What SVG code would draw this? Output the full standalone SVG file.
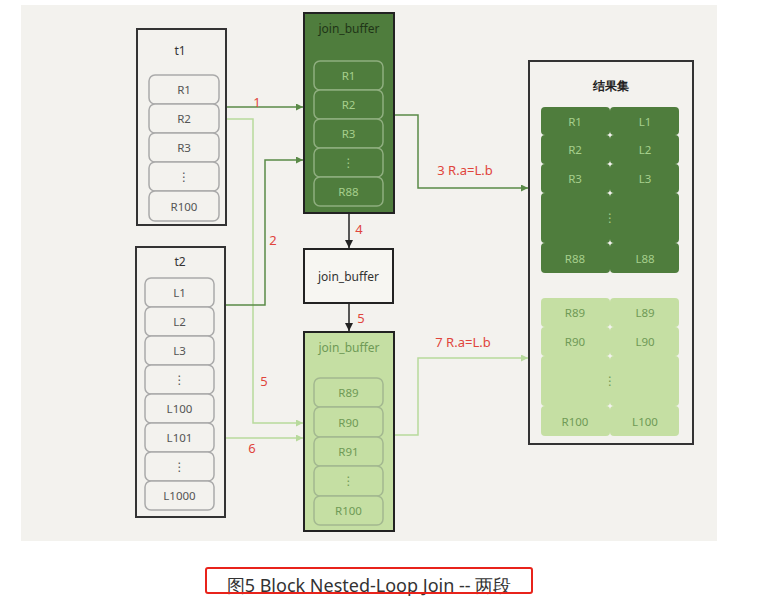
<svg xmlns="http://www.w3.org/2000/svg" width="769" height="606" viewBox="0 0 769 606">
<style>
text{font-family:"Noto Sans","DejaVu Sans",sans-serif;text-anchor:middle;dominant-baseline:central}
.box{fill:#f3f2ee;stroke:#333;stroke-width:2}
.row{fill:#f3f2ee;stroke:#aaa;stroke-width:1.5}
.rt{font-size:11.5px;fill:#555}
.drow{fill:#4f7d3d;stroke:#8fae7f;stroke-width:1.5}
.drt{font-size:11.5px;fill:#a6cf8c}
.lrow{fill:#c5dfa3;stroke:#a3b890;stroke-width:1.5}
.lrt{font-size:11.5px;fill:#6f9a56}
.dc{fill:#4f7d3d}
.lc{fill:#c5dfa3}
.red{font-size:13px;fill:#e0453c}
.dl{fill:none;stroke:#5a8a47;stroke-width:1.5}
.ll{fill:none;stroke:#b8da9c;stroke-width:1.5}
.bl{fill:none;stroke:#222;stroke-width:1.5}
.dots{font-family:"DejaVu Sans",sans-serif;font-size:12px}
</style>
<defs>
<marker id="ad" viewBox="0 0 10 10" refX="10" refY="5" markerWidth="7" markerHeight="7" orient="auto" markerUnits="userSpaceOnUse"><path d="M0,0L10,5L0,10z" fill="#5a8a47"/></marker>
<marker id="al" viewBox="0 0 10 10" refX="10" refY="5" markerWidth="7" markerHeight="7" orient="auto" markerUnits="userSpaceOnUse"><path d="M0,0L10,5L0,10z" fill="#b8da9c"/></marker>
<marker id="ab" viewBox="0 0 10 10" refX="10" refY="5" markerWidth="8" markerHeight="8" orient="auto" markerUnits="userSpaceOnUse"><path d="M0,0L10,5L0,10z" fill="#222"/></marker>
</defs>
<rect x="21" y="5" width="696" height="536" fill="#f3f2ee"/>

<g id="connectors">
<path class="dl" d="M226,107H303" marker-end="url(#ad)"/>
<path class="ll" d="M226,119H253V423H303" marker-end="url(#al)"/>
<path class="dl" d="M226,305H265V160H303" marker-end="url(#ad)"/>
<path class="ll" d="M226,438H303" marker-end="url(#al)"/>
<path class="bl" d="M349,213V248" marker-end="url(#ab)"/>
<path class="bl" d="M349,303V331" marker-end="url(#ab)"/>
<path class="dl" d="M394,115H418V188H528" marker-end="url(#ad)"/>
<path class="ll" d="M394,435H418V358H528" marker-end="url(#al)"/>
<text class="red" x="257" y="102">1</text>
<text class="red" x="273" y="240">2</text>
<text class="red" x="465" y="170">3 R.a=L.b</text>
<text class="red" x="359" y="229">4</text>
<text class="red" x="361" y="318">5</text>
<text class="red" x="264" y="381">5</text>
<text class="red" x="252" y="448">6</text>
<text class="red" x="463" y="342">7 R.a=L.b</text>
</g>

<g id="t1">
<rect class="box" x="137" y="29" width="89" height="196"/>
<text x="180" y="50" font-size="12" fill="#333">t1</text>
<rect class="row" x="149" y="75" width="70" height="29" rx="6"/><text class="rt" x="184" y="89.5">R1</text>
<rect class="row" x="149" y="104" width="70" height="29" rx="6"/><text class="rt" x="184" y="118.5">R2</text>
<rect class="row" x="149" y="133" width="70" height="29" rx="6"/><text class="rt" x="184" y="147.5">R3</text>
<rect class="row" x="149" y="162" width="70" height="29" rx="6"/><text class="rt dots" x="184" y="176.5">⋮</text>
<rect class="row" x="149" y="191" width="70" height="30" rx="6"/><text class="rt" x="184" y="206">R100</text>
</g>

<g id="t2">
<rect class="box" x="136" y="247" width="89" height="270"/>
<text x="180" y="261" font-size="12" fill="#333">t2</text>
<rect class="row" x="145" y="278" width="69" height="29" rx="6"/><text class="rt" x="179.5" y="292.5">L1</text>
<rect class="row" x="145" y="307" width="69" height="29" rx="6"/><text class="rt" x="179.5" y="321.5">L2</text>
<rect class="row" x="145" y="336" width="69" height="29" rx="6"/><text class="rt" x="179.5" y="350.5">L3</text>
<rect class="row" x="145" y="365" width="69" height="29" rx="6"/><text class="rt dots" x="179.5" y="379.5">⋮</text>
<rect class="row" x="145" y="394" width="69" height="29" rx="6"/><text class="rt" x="179.5" y="408.5">L100</text>
<rect class="row" x="145" y="423" width="69" height="29" rx="6"/><text class="rt" x="179.5" y="437.5">L101</text>
<rect class="row" x="145" y="452" width="69" height="29" rx="6"/><text class="rt dots" x="179.5" y="466.5">⋮</text>
<rect class="row" x="145" y="481" width="69" height="29" rx="6"/><text class="rt" x="179.5" y="495.5">L1000</text>
</g>

<g id="join_buffer_1">
<rect x="304" y="13" width="90" height="200" fill="#4f7d3d" stroke="#222" stroke-width="2"/>
<text x="349" y="28" font-size="12" fill="#1f3517">join_buffer</text>
<rect class="drow" x="314" y="61" width="69" height="29" rx="6"/><text class="drt" x="348.5" y="75.5">R1</text>
<rect class="drow" x="314" y="90" width="69" height="29" rx="6"/><text class="drt" x="348.5" y="104.5">R2</text>
<rect class="drow" x="314" y="119" width="69" height="29" rx="6"/><text class="drt" x="348.5" y="133.5">R3</text>
<rect class="drow" x="314" y="148" width="69" height="29" rx="6"/><text class="drt dots" x="348.5" y="162.5">⋮</text>
<rect class="drow" x="314" y="177" width="69" height="29" rx="6"/><text class="drt" x="348.5" y="191.5">R88</text>
</g>

<g id="join_buffer_2">
<rect x="304" y="249" width="89" height="54" fill="#f7f6f2" stroke="#222" stroke-width="2"/>
<text x="348.5" y="276" font-size="12" fill="#333">join_buffer</text>
</g>

<g id="join_buffer_3">
<rect x="304" y="332" width="90" height="199" fill="#c5dfa3" stroke="#222" stroke-width="2"/>
<text x="349" y="347" font-size="12" fill="#6f9a56">join_buffer</text>
<rect class="lrow" x="314" y="378" width="69" height="29" rx="6"/><text class="lrt" x="348.5" y="392.5">R89</text>
<rect class="lrow" x="314" y="407" width="69" height="30" rx="6"/><text class="lrt" x="348.5" y="422">R90</text>
<rect class="lrow" x="314" y="437" width="69" height="29" rx="6"/><text class="lrt" x="348.5" y="451.5">R91</text>
<rect class="lrow" x="314" y="466" width="69" height="30" rx="6"/><text class="lrt dots" x="348.5" y="481">⋮</text>
<rect class="lrow" x="314" y="496" width="69" height="29" rx="6"/><text class="lrt" x="348.5" y="510.5">R100</text>
</g>

<g id="result">
<rect class="box" x="529" y="61" width="164" height="383"/>
<text x="611" y="85" font-size="12" font-weight="bold" fill="#222" font-family="Noto Sans CJK SC,sans-serif">结果集</text>
<rect class="dc" x="541" y="107" width="69" height="28" rx="4"/><rect class="dc" x="610" y="107" width="69" height="28" rx="4"/>
<rect class="dc" x="541" y="135" width="69" height="29" rx="4"/><rect class="dc" x="610" y="135" width="69" height="29" rx="4"/>
<rect class="dc" x="541" y="164" width="69" height="29" rx="4"/><rect class="dc" x="610" y="164" width="69" height="29" rx="4"/>
<rect class="dc" x="541" y="193" width="69" height="50" rx="4"/><rect class="dc" x="610" y="193" width="69" height="50" rx="4"/>
<rect class="dc" x="541" y="243" width="69" height="30" rx="4"/><rect class="dc" x="610" y="243" width="69" height="30" rx="4"/>
<text class="drt" x="575" y="121">R1</text><text class="drt" x="645" y="121">L1</text>
<text class="drt" x="575" y="149.5">R2</text><text class="drt" x="645" y="149.5">L2</text>
<text class="drt" x="575" y="178.5">R3</text><text class="drt" x="645" y="178.5">L3</text>
<text class="drt dots" x="610" y="218">⋮</text>
<text class="drt" x="575" y="258">R88</text><text class="drt" x="645" y="258">L88</text>
<rect class="lc" x="541" y="298" width="69" height="29" rx="4"/><rect class="lc" x="610" y="298" width="69" height="29" rx="4"/>
<rect class="lc" x="541" y="327" width="69" height="29" rx="4"/><rect class="lc" x="610" y="327" width="69" height="29" rx="4"/>
<rect class="lc" x="541" y="356" width="69" height="50" rx="4"/><rect class="lc" x="610" y="356" width="69" height="50" rx="4"/>
<rect class="lc" x="541" y="406" width="69" height="30" rx="4"/><rect class="lc" x="610" y="406" width="69" height="30" rx="4"/>
<text class="lrt" x="575" y="312.5">R89</text><text class="lrt" x="645" y="312.5">L89</text>
<text class="lrt" x="575" y="341.5">R90</text><text class="lrt" x="645" y="341.5">L90</text>
<text class="lrt dots" x="610" y="381">⋮</text>
<text class="lrt" x="575" y="421">R100</text><text class="lrt" x="645" y="421">L100</text>
</g>

<g id="caption">
<text x="369" y="585" font-size="18" fill="#333" font-family="Noto Sans CJK SC,Noto Sans,sans-serif">图5 Block Nested-Loop Join -- 两段</text>
<rect x="206" y="568" width="326" height="25" rx="2" fill="none" stroke="#e8231b" stroke-width="2"/>
</g>
</svg>
